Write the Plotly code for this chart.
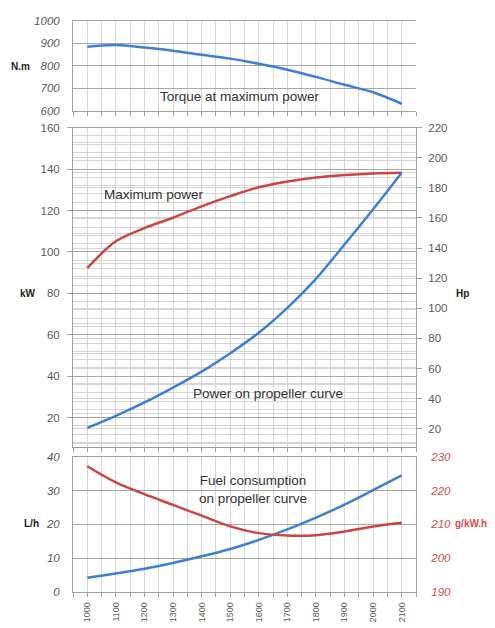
import plotly.graph_objects as go

# ---- data ----
rpm_labels = ["1000", "1100", "1200", "1300", "1400", "1500", "1600", "1700", "1800", "1900", "2000", "2100"]
torque_nm = [885, 892, 881, 867, 849, 832, 809, 783, 751, 716, 683, 632]
max_power_kw = [92.2, 105.1, 111.5, 116.5, 122.0, 126.9, 131.2, 134.0, 135.9, 137.1, 137.9, 138.2]
prop_power_kw = [15.0, 20.8, 27.3, 34.5, 42.2, 51.1, 61.0, 73.0, 87.0, 103.6, 120.6, 138.2]
fuel_lh = [4.1, 5.4, 6.8, 8.5, 10.5, 12.7, 15.4, 18.5, 22.0, 25.9, 30.2, 34.6]
sfc_gkwh = [227.3, 222.5, 219.0, 215.8, 212.6, 209.4, 207.4, 206.7, 206.8, 207.9, 209.4, 210.5]

W, H = 495, 628
BLUE = "#3d7fd6"
RED = "#cc4545"
GRID_MAJOR = "#a8a8a8"
GRID_MINOR = "#d6d6d6"
TICKC = "#5a5a5a"
FONT = "Liberation Sans"

xi = list(range(len(rpm_labels)))
xdom = [73 / W, 416 / W]

def ydom(top, bot):
    return [1 - bot / H, 1 - top / H]

fig = go.Figure()
fig.add_trace(go.Scatter(x=xi, y=torque_nm, mode="lines", line=dict(color=BLUE, width=2.5, shape="spline"),
                         xaxis="x", yaxis="y", showlegend=False))
fig.add_trace(go.Scatter(x=xi, y=max_power_kw, mode="lines", line=dict(color=RED, width=2.5, shape="spline"),
                         xaxis="x2", yaxis="y2", showlegend=False))
fig.add_trace(go.Scatter(x=xi, y=prop_power_kw, mode="lines", line=dict(color=BLUE, width=2.5, shape="spline"),
                         xaxis="x2", yaxis="y2", showlegend=False))
# empty trace so that the Hp axis is drawn
fig.add_trace(go.Scatter(x=[], y=[], mode="lines", xaxis="x2", yaxis="y3", showlegend=False, hoverinfo="skip"))
fig.add_trace(go.Scatter(x=xi, y=fuel_lh, mode="lines", line=dict(color=BLUE, width=2.5, shape="spline"),
                         xaxis="x3", yaxis="y4", showlegend=False))
fig.add_trace(go.Scatter(x=xi, y=sfc_gkwh, mode="lines", line=dict(color=RED, width=2.5, shape="spline"),
                         xaxis="x3", yaxis="y5", showlegend=False))

def xax(anchor, labels):
    return dict(domain=xdom, anchor=anchor, range=[-0.5, len(rpm_labels) - 0.5],
                tickmode="array", tickvals=xi, ticktext=rpm_labels,
                showticklabels=labels, tickangle=-90,
                tickfont=dict(family=FONT, size=9, color=TICKC),
                ticks="outside", ticklen=4, tickcolor="#a0a0a0",
                showgrid=True, gridcolor=GRID_MINOR, gridwidth=1,
                minor=dict(tick0=-0.5, dtick=1, showgrid=True, gridcolor=GRID_MINOR,
                           ticks="outside", ticklen=4, tickcolor="#a0a0a0"),
                showline=True, linecolor="#a0a0a0", mirror=True, zeroline=False, fixedrange=True,
                ticklabelstandoff=2)

tick_ital = dict(family=FONT, size=11.5, color=TICKC, style="italic")
tick_norm = dict(family=FONT, size=11.5, color=TICKC)

fig.update_layout(
    width=W, height=H, margin=dict(l=0, r=0, t=0, b=0),
    paper_bgcolor="white", plot_bgcolor="white", showlegend=False,
    xaxis=xax("y", False),
    xaxis2=xax("y2", False),
    xaxis3=xax("y4", True),
    yaxis=dict(domain=ydom(15, 107), anchor="x", range=[600, 1000], dtick=100,
               tickfont=tick_ital, ticks="", gridcolor=GRID_MAJOR, showline=True,
               linecolor="#a0a0a0", zeroline=False, fixedrange=True, ticklabelstandoff=10),
    yaxis2=dict(domain=ydom(124, 450), anchor="x2", range=[5.6, 160], tick0=0, dtick=20,
                tickfont=tick_norm, ticks="outside", ticklen=5, tickcolor="#a0a0a0",
                gridcolor=GRID_MAJOR, gridwidth=1.3,
                minor=dict(tick0=0, dtick=4, showgrid=True, gridcolor=GRID_MINOR),
                showline=True, linecolor="#a0a0a0", zeroline=False, fixedrange=True,
                ticklabelstandoff=5),
    yaxis3=dict(domain=ydom(124, 450), anchor="x2", overlaying="y2", side="right",
                range=[7.6, 220], tick0=0, dtick=20, tickfont=tick_norm,
                ticks="outside", ticklen=5, tickcolor="#a0a0a0",
                showgrid=True, gridcolor=GRID_MINOR,
                minor=dict(tick0=0, dtick=10, showgrid=True, gridcolor=GRID_MINOR),
                showline=True, linecolor="#a0a0a0", zeroline=False, fixedrange=True,
                ticklabelstandoff=4),
    yaxis4=dict(domain=ydom(460, 597), anchor="x3", range=[0, 40], dtick=10,
                tickfont=tick_ital, ticks="", gridcolor=GRID_MAJOR, showline=True,
                linecolor="#a0a0a0", zeroline=False, fixedrange=True, ticklabelstandoff=10),
    yaxis5=dict(domain=ydom(460, 597), anchor="x3", overlaying="y4", side="right",
                range=[190, 230], dtick=10, showgrid=False,
                tickfont=dict(family=FONT, size=11.5, color="#d94a4a", style="italic"),
                ticks="", showline=True, linecolor="#a0a0a0", zeroline=False,
                fixedrange=True, ticklabelstandoff=12),
)

def ann(text, px, py, size=13, color="#333333", bold=False, xanchor="center", align="center"):
    fig.add_annotation(text=f"<b>{text}</b>" if bold else text, x=px / W, y=1 - py / H,
                       xref="paper", yref="paper", showarrow=False, xanchor=xanchor,
                       yanchor="middle", align=align,
                       font=dict(family=FONT, size=size, color=color))

ann("Torque at maximum power", 240, 92, size=13.5)
ann("Maximum power", 102, 192, size=13.5, xanchor="left")
ann("Power on propeller curve", 191, 395, size=13.5, xanchor="left")
ann("Fuel consumption<br>on propeller curve", 253, 493, size=13.5)
ann("N.m", 20, 62, size=10, color="#222222", bold=True, xanchor="center")
ann("kW", 28, 293, size=10, color="#222222", bold=True)
ann("Hp", 462, 293, size=10, color="#222222", bold=True)
ann("L/h", 31, 528, size=10, color="#222222", bold=True)
ann("g/kW.h", 453, 528, size=10, color="#d94a4a", bold=True, xanchor="left")

fig.write_html("out.html", config={"displayModeBar": False},
               post_script="document.body.style.margin='0';document.body.style.padding='0';"
                           "document.body.style.overflow='hidden';")
